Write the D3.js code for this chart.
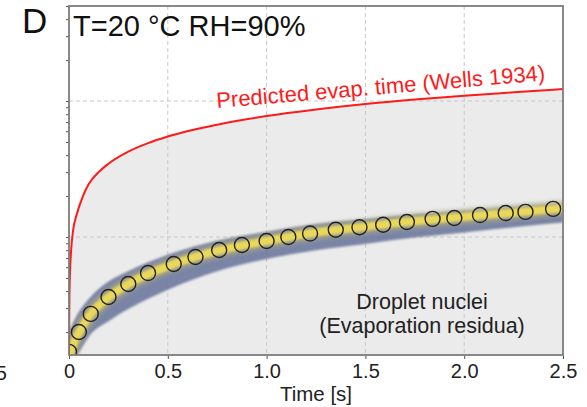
<!DOCTYPE html>
<html><head><meta charset="utf-8">
<script src="https://cdn.jsdelivr.net/npm/d3@7"></script>
<style>body{margin:0;background:#fff}svg{display:block;font-family:"Liberation Sans",Arial,sans-serif}</style>
</head><body><svg id="c" width="587" height="407"></svg>
<script>
// ---- data ----
const timeTicks = [0, 0.5, 1.0, 1.5, 2.0, 2.5];
const timeTickLabels = ["0", "0.5", "1.0", "1.5", "2.0", "2.5"];
const gridD = [10, 100];
// predicted evaporation curve (Wells 1934)
const predT = [0, 0.001, 0.002, 0.005, 0.01, 0.02, 0.04, 0.07, 0.1, 0.15, 0.2, 0.3, 0.4, 0.5, 0.75, 1.0, 1.25, 1.5, 1.75, 2.0, 2.25, 2.5];
const predD = [1.36, 2.4, 3.5, 5.5, 7.7, 11.0, 14.8, 19.9, 24.5, 30.0, 34.6, 42.4, 49.0, 54.8, 67.0, 77.5, 86.6, 95.0, 102.5, 109.5, 116.0, 122.5];
// mean droplet nuclei (circles)
const meanT = [0.0, 0.05, 0.11, 0.20, 0.30, 0.40, 0.53, 0.64, 0.76, 0.875, 1.0, 1.11, 1.22, 1.35, 1.47, 1.59, 1.71, 1.84, 1.95, 2.08, 2.21, 2.31, 2.45];
const meanD = [1.43, 2.0, 2.72, 3.62, 4.51, 5.43, 6.33, 7.13, 8.02, 8.73, 9.35, 10.0, 10.6, 11.3, 11.8, 12.3, 12.9, 13.6, 13.8, 14.5, 15.0, 15.3, 16.1];
// scatter cloud envelope
const bandT    = [0.0, 0.03, 0.06, 0.1, 0.2, 0.3, 0.5, 0.75, 1.0, 1.25, 1.5, 1.75, 2.0, 2.25, 2.5];
const bandMid  = [1.3, 1.75, 2.1, 2.6, 3.6, 4.5, 6.1, 7.9, 9.35, 10.8, 11.9, 13.1, 14.1, 15.1, 16.3];
const bandHigh = [2.0, 2.5, 2.95, 3.5, 4.7, 5.6, 7.4, 9.4, 10.9, 12.4, 13.5, 14.6, 15.5, 16.4, 17.4];
const bandLow  = [1.2, 1.3, 1.5, 1.85, 2.4, 2.95, 4.1, 5.6, 6.9, 8.0, 8.9, 9.9, 10.8, 11.8, 12.8];

// ---- layout ----
const svg = d3.select("#c");
const L = 69, R = 563, T = 6, B = 355;
const x = d3.scaleLinear().domain([0, 2.5]).range([L, R]);
const y = d3.scaleLog().domain([1.356, 500]).range([B, T]);

const defs = svg.append("defs");
defs.append("clipPath").attr("id", "clip").append("rect").attr("x", L).attr("y", T).attr("width", R - L).attr("height", B - T);
defs.append("filter").attr("id", "b1").attr("x", "-5%").attr("y", "-20%").attr("width", "110%").attr("height", "140%")
  .append("feGaussianBlur").attr("stdDeviation", 1.2);
defs.append("filter").attr("id", "b2").attr("x", "-5%").attr("y", "-20%").attr("width", "110%").attr("height", "140%")
  .append("feGaussianBlur").attr("stdDeviation", 2.2);

const g = svg.append("g").attr("clip-path", "url(#clip)");

// gray area under prediction
const predPts = predT.map((t, i) => [t, predD[i]]);
const area = d3.area().x(d => x(d[0])).y0(B).y1(d => y(d[1])).curve(d3.curveMonotoneX);
g.append("path").datum(predPts).attr("d", area).attr("fill", "#ebebeb");

// grid
g.selectAll(".gx").data(timeTicks.slice(1, -1)).join("line")
  .attr("x1", d => x(d)).attr("x2", d => x(d)).attr("y1", T).attr("y2", B)
  .attr("stroke", "#c8c8c8").attr("stroke-dasharray", "4,3");
g.selectAll(".gy").data(gridD).join("line")
  .attr("x1", L).attr("x2", R).attr("y1", d => y(d)).attr("y2", d => y(d))
  .attr("stroke", "#c8c8c8").attr("stroke-dasharray", "4,3");

// scatter cloud
const bandPts = bandT.map((t, i) => ({t, lo: bandLow[i], hi: bandHigh[i], mid: bandMid[i]}));
const bandArea = d3.area().x(d => x(d.t)).y0(d => y(d.lo)).y1(d => y(d.hi)).curve(d3.curveMonotoneX);
g.append("path").datum(bandPts).attr("d", bandArea).attr("fill", "#66739a").attr("opacity", 0.85).attr("filter", "url(#b1)");
const midLine = d3.line().x(d => x(d.t)).y(d => y(d.mid)).curve(d3.curveMonotoneX);
g.append("path").datum(bandPts).attr("d", midLine).attr("fill", "none").attr("stroke", "#a9a682").attr("stroke-width", 15).attr("opacity", 0.8).attr("filter", "url(#b2)");
g.append("path").datum(bandPts).attr("d", midLine).attr("fill", "none").attr("stroke", "#e9d85a").attr("stroke-width", 8).attr("filter", "url(#b1)");

// circles
g.selectAll(".m").data(meanT.map((t, i) => [t, meanD[i]])).join("circle")
  .attr("cx", d => x(d[0])).attr("cy", d => y(d[1])).attr("r", 7.5)
  .attr("fill", "none").attr("stroke", "#222").attr("stroke-width", 1.4);

// prediction line
g.append("path").datum(predPts).attr("d", d3.line().x(d => x(d[0])).y(d => y(d[1])).curve(d3.curveMonotoneX))
  .attr("fill", "none").attr("stroke", "#ff1a1a").attr("stroke-width", 2);

// axes
const xa = svg.append("g").attr("transform", `translate(0,${B})`)
  .call(d3.axisBottom(x).tickValues(timeTicks).tickFormat((d, i) => timeTickLabels[i]).tickSize(4).tickPadding(5));
xa.select(".domain").remove();
xa.selectAll("line").attr("stroke", "#555");
xa.selectAll("text").attr("font-size", 20).attr("fill", "#222").attr("font-family", "Liberation Sans, Arial, sans-serif");

const ya = svg.append("g").attr("transform", `translate(${L},0)`)
  .call(d3.axisLeft(y).tickValues(y.ticks()).tickFormat("").tickSize(3));
ya.select(".domain").remove();
ya.selectAll("line").attr("stroke", "#555");

// frame
svg.append("rect").attr("x", L).attr("y", T).attr("width", R - L).attr("height", B - T)
  .attr("fill", "none").attr("stroke", "#7d7d7d").attr("stroke-width", 1.8);

// texts
svg.append("text").attr("x", 22).attr("y", 33).attr("font-size", 35).attr("fill", "#111").text("D");
svg.append("text").attr("x", 73).attr("y", 36).attr("font-size", 29).attr("fill", "#111").text("T=20 °C RH=90%");
svg.append("text").attr("transform", "translate(217,108) rotate(-4.8)").attr("font-size", 22).attr("fill", "#ff1a1a")
  .text("Predicted evap. time (Wells 1934)");
svg.append("text").attr("x", 422).attr("y", 309).attr("text-anchor", "middle").attr("font-size", 21.5).attr("fill", "#222").text("Droplet nuclei");
svg.append("text").attr("x", 422).attr("y", 333).attr("text-anchor", "middle").attr("font-size", 21.5).attr("fill", "#222").text("(Evaporation residua)");
svg.append("text").attr("x", 316).attr("y", 401).attr("text-anchor", "middle").attr("font-size", 20.5).attr("fill", "#222").text("Time [s]");
svg.append("text").attr("x", 7).attr("y", 380).attr("text-anchor", "end").attr("font-size", 20).attr("fill", "#222").text("2.5");
</script></body></html>
